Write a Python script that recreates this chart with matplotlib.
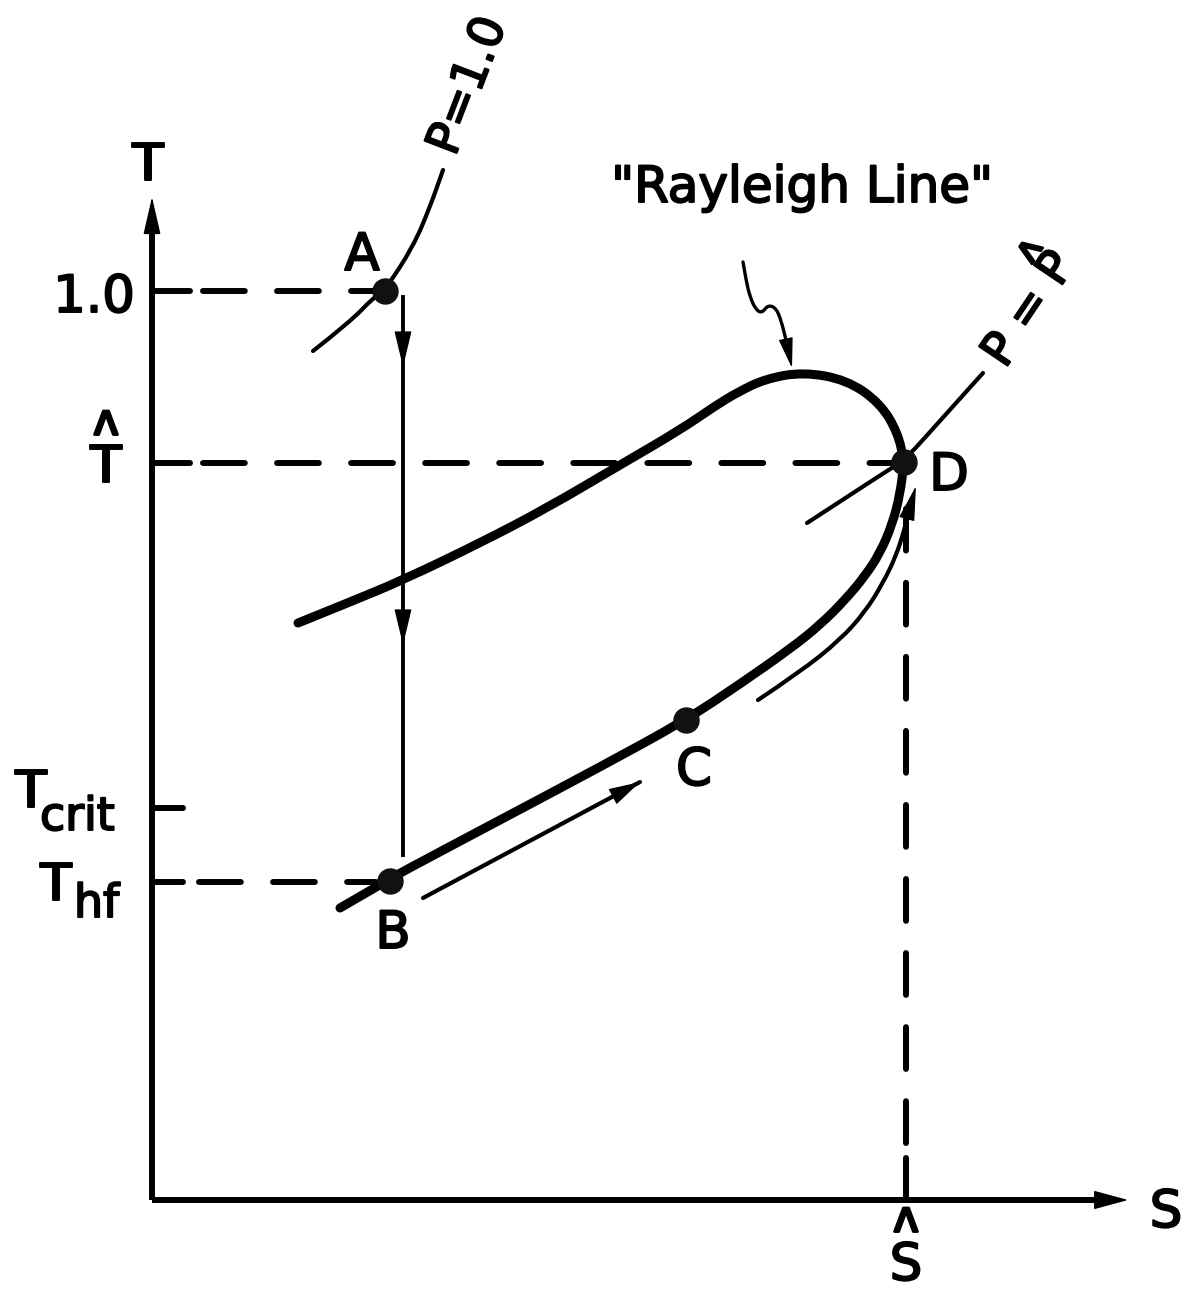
import matplotlib.pyplot as plt
import matplotlib.patheffects as pe
from matplotlib.path import Path
from matplotlib.patches import PathPatch
import numpy as np

# T-S diagram laid out on a page grid (S to the right, T increasing upward,
# so the T coordinates below grow downward on the page)
S0, T0 = 152, 1200          # origin
S_END, T_END = 1128, 197    # arrow tips of the two axes

# state points
state_names = ['A', 'B', 'C', 'D']
state_s = [385, 390, 686, 904]
state_t = [291, 881, 720, 462]

# T levels marked on the axis
tick_t = [291, 463, 808, 882]
tick_len = [38, 38, 31, 31]
s_hat = 906

# Rayleigh line
rayleigh_s = [298, 350, 403, 480, 547, 620, 680, 715, 738, 765, 803, 847, 880,
              898, 904, 900, 892, 880, 865, 845, 820, 790, 740, 686, 600, 500,
              400, 390, 340]
rayleigh_t = [623, 602, 580, 543, 508, 465, 430, 406, 392, 379, 372, 380, 403,
              433, 462, 495, 525, 553, 576, 600, 625, 649, 684, 720, 767, 820,
              873, 879, 908]

# isobars
p1_s = [313, 350, 373, 385, 413, 430, 443]
p1_t = [351, 322, 298, 290, 247, 207, 170]
phat_s = [807, 847, 893, 904, 947, 983]
phat_t = [523, 497, 467, 461, 413, 373]

# process arrows
drop_s = [403, 403]
drop_t = [297, 855]
drop_heads = [367, 645]
heat_s = [423, 640]
heat_t = [898, 782]
flow_s = [758, 800, 840, 865, 883, 896, 904, 909]
flow_t = [700, 672, 640, 612, 583, 556, 531, 511]
flow_tip = (916, 486)

# pointer from the label to the Rayleigh line
ptr_s = [743, 746, 750, 756, 762, 768, 776, 781, 786]
ptr_t = [262, 280, 297, 310, 313, 305, 308, 320, 340]
ptr_tip = (792, 368)


def smooth_path(xs, ys):
    pts = np.column_stack([xs, ys]).astype(float)
    verts = [pts[0]]
    codes = [Path.MOVETO]
    for i in range(1, len(pts) - 1):
        verts += [pts[i], (pts[i] + pts[i + 1]) / 2]
        codes += [Path.CURVE3, Path.CURVE3]
    verts.append(pts[-1])
    codes.append(Path.LINETO)
    return Path(verts, codes)


def curve(xs, ys, lw):
    ax.add_patch(PathPatch(smooth_path(xs, ys), fill=False, lw=lw, color='k',
                           capstyle='round', joinstyle='round'))


def head(tip, tail, length, width):
    ax.annotate('', xy=tip, xytext=tail,
                arrowprops=dict(arrowstyle=f'-|>,head_length={length},head_width={width}',
                                color='k', lw=1, shrinkA=0, shrinkB=0, mutation_scale=10))


fig = plt.figure(figsize=(11.88, 12.89), dpi=100)
ax = fig.add_axes([0, 0, 1, 1])
ax.set_xlim(0, 1188)
ax.set_ylim(1289, 0)
ax.axis('off')

bold = [pe.withStroke(linewidth=1.4, foreground='k')]
txt = dict(color='k', family='DejaVu Sans', path_effects=bold)
# the "hat" over T, S and P is an upturned v
hat_txt = dict(color='k', family='DejaVu Sans', ha='center', va='center',
               path_effects=[pe.withStroke(linewidth=2.0, foreground='k')])

# axes
ax.plot([S0, S0], [T0, T_END + 20], color='k', lw=4.3, solid_capstyle='butt')
ax.plot([S0, S_END - 20], [T0, T0], color='k', lw=4.3, solid_capstyle='butt')
head((S0, T_END), (S0, T_END + 40), 2.4, 0.55)
head((S_END, T0), (S_END - 40, T0), 2.2, 0.6)
ax.text(S0 - 4, 180, 'T', fontsize=37, ha='center', va='baseline', **txt)
ax.text(1166, 1227, 'S', fontsize=37, ha='center', va='baseline', **txt)

# ticks and dashed guides
dash = dict(color='k', lw=4.3, ls=(0, (7.0, 5.4)), dash_capstyle='round')
for t, ln in zip(tick_t, tick_len):
    ax.plot([S0, S0 + ln], [t, t], color='k', lw=4.3, solid_capstyle='round')
ax.plot([203, state_s[0] - 12], [tick_t[0], tick_t[0]], **dash)
ax.plot([203, state_s[3] - 12], [tick_t[1], tick_t[1]], **dash)
ax.plot([199, state_s[1] - 14], [tick_t[3], tick_t[3]], **dash)
ax.plot([s_hat, s_hat], [T0, 1158], color='k', lw=4.3, solid_capstyle='round')
ax.plot([s_hat, s_hat], [1143, 490], **dash)

ax.text(94, 312, '1.0', fontsize=37, ha='center', va='baseline', **txt)
ax.text(106, 482, 'T', fontsize=37, ha='center', va='baseline', **txt)
ax.text(106, 423, 'v', fontsize=31, rotation=180, **hat_txt)
ax.text(31, 807, 'T', fontsize=37, ha='center', va='baseline', **txt)
ax.text(40, 830, 'crit', fontsize=33, ha='left', va='baseline', **txt)
ax.text(56, 900, 'T', fontsize=37, ha='center', va='baseline', **txt)
ax.text(74, 917, 'hf', fontsize=33, ha='left', va='baseline', **txt)
ax.text(906, 1280, 'S', fontsize=37, ha='center', va='baseline', **txt)
ax.text(906, 1220, 'v', fontsize=31, rotation=180, **hat_txt)

# curves
curve(rayleigh_s, rayleigh_t, 6.5)
curve(p1_s, p1_t, 3.0)
curve(phat_s, phat_t, 3.0)

# process arrows
ax.plot(drop_s, drop_t, color='k', lw=2.8)
for t in drop_heads:
    head((drop_s[0], t), (drop_s[0], t - 40), 2.3, 0.55)
ax.plot(heat_s, heat_t, color='k', lw=3.0, solid_capstyle='round')
head((heat_s[1], heat_t[1]), (heat_s[0], heat_t[0]), 2.0, 0.55)
curve(flow_s, flow_t, 3.0)
head(flow_tip, (flow_s[-1], flow_t[-1]), 2.2, 0.5)
curve(ptr_s, ptr_t, 2.4)
head(ptr_tip, (ptr_s[-1], ptr_t[-1]), 1.9, 0.45)

# state points
ax.plot(state_s, state_t, 'o', color='#111111', ms=18, zorder=5)
label_pos = {'A': (362, 270), 'B': (393, 948), 'C': (694, 785), 'D': (949, 490)}
for n in state_names:
    ax.text(*label_pos[n], n, fontsize=37, ha='center', va='baseline', **txt)

ax.text(802, 188, '"Rayleigh Line"', fontsize=36, ha='center', va='center', **txt)
ax.text(469, 86, 'P=1.0', fontsize=34, rotation=69, ha='center', va='center',
        rotation_mode='anchor', **txt)

# isobar label P = P-hat, hat placed over the second P in the rotated frame
ang = np.deg2rad(56)
along = np.array([np.cos(ang), -np.sin(ang)])
up = np.array([-np.sin(ang), -np.cos(ang)])
anchor = np.array([1030, 310])
ax.text(*anchor, 'P = P', fontsize=34, rotation=56, ha='center', va='center',
        rotation_mode='anchor', **txt)
hat_at = anchor + 49 * along + 34 * up
ax.text(*hat_at, 'v', fontsize=26, rotation=236, rotation_mode='anchor', **hat_txt)

fig.savefig('out.png', dpi=100)
